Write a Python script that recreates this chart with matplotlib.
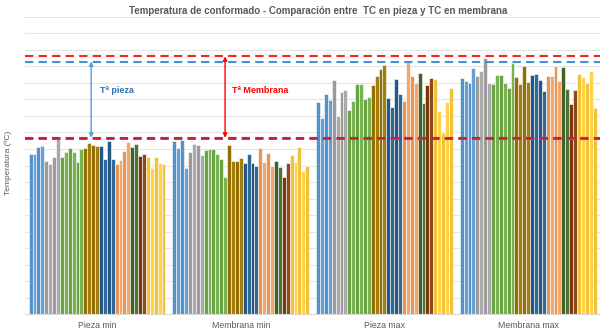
import numpy as np
import matplotlib
matplotlib.use("Agg")
import matplotlib.pyplot as plt

plt.rcParams['font.family'] = ['Liberation Sans', 'DejaVu Sans']

categorias = ['Pieza min', 'Membrana min', 'Pieza max', 'Membrana max']

# 35 termopares, agrupados por familia de color (azul, gris, verde, oliva,
# azul oscuro, naranja, verde oscuro, marrón, amarillo)
familias = [('#5B9BD5', 4), ('#A5A5A5', 4), ('#70AD47', 6), ('#9C7500', 4),
            ('#255E91', 4), ('#F4A060', 4), ('#43682B', 2), ('#843C0C', 2),
            ('#FFCF40', 5)]

pieza_min = [97.0, 97.0, 101.5, 101.8,
             92.9, 91.1, 95.0, 106.8,
             95.3, 98.1, 100.3, 98.3, 92.3, 100.0,
             100.7, 103.5, 102.6, 101.7,
             101.7, 93.8, 104.7, 93.9,
             90.8, 93.3, 99.0, 104.4,
             101.4, 102.8,
             95.8, 97.0,
             95.0, 88.3, 95.3, 91.3, 91.1]
membrana_min = [105.0, 100.5, 105.6, 88.3,
                98.1, 103.0, 102.2, 96.2,
                99.4, 100.2, 100.0, 96.8, 93.8, 83.0,
                102.7, 92.9, 92.9, 94.7,
                91.7, 97.0, 91.7, 89.7,
                100.3, 92.3, 97.4, 89.7,
                92.6, 88.8,
                83.3, 91.3,
                96.2, 92.4, 101.0, 86.8, 89.7]
pieza_max = [128.3, 119.0, 133.2, 129.7,
             141.6, 120.2, 134.7, 135.8,
             123.5, 129.1, 139.1, 139.5, 130.4, 131.4,
             138.6, 144.2, 148.2, 150.8,
             130.7, 125.3, 142.6, 133.5,
             129.1, 153.3, 144.2, 139.9,
             145.9, 128.1,
             138.9, 143.2,
             142.2, 123.0, 109.7, 128.7, 136.8]
membrana_max = [142.8, 141.4, 140.0, 148.9,
                144.2, 147.1, 155.0, 139.8,
                139.6, 144.8, 144.8, 140.0, 136.8, 151.9,
                143.8, 139.6, 150.5, 140.6,
                144.8, 145.6, 141.6, 135.0,
                144.4, 144.2, 150.5, 141.2,
                149.9, 136.5,
                127.3, 135.9,
                145.5, 143.8, 140.0, 147.3, 125.0]

# límites de referencia
ref_membrana_max = 156.1
ref_pieza_max = 153.0
ref_membrana_min = 106.8
ref_pieza_min = 105.9

datos = np.array([pieza_min, membrana_min, pieza_max, membrana_max])

colores = []
for c, n in familias:
    base = np.array(matplotlib.colors.to_rgb(c))
    for k in range(n):
        f = 0.12 * ((k % 2) - 0.5)
        colores.append(tuple(np.clip(base + (1 - base) * max(f, 0) + base * min(f, 0), 0, 1)))

fig = plt.figure(figsize=(6, 3.32), dpi=100)
ax = fig.add_axes([0.042, 0.054, 0.958, 0.895])

n_series = datos.shape[1]
ancho = 0.0272
x = np.arange(len(categorias))
for j in range(n_series):
    ax.bar(x + (j - (n_series - 1) / 2) * ancho, datos[:, j], width=ancho,
           color=colores[j], edgecolor='white', linewidth=0.4, zorder=2)

# primero las líneas azules (pieza), encima las rojas (membrana)
for y, c in [(ref_pieza_max, '#4A90D0'), (ref_pieza_min, '#3E70B0'),
             (ref_membrana_max, '#FF2020'), (ref_membrana_min, '#C8203A')]:
    ax.axhline(y, color=c, ls=(0, (4, 2.5)), lw=1.5, zorder=3)

ax.annotate('', xy=(-0.041, ref_membrana_min), xytext=(-0.041, ref_pieza_max),
            arrowprops=dict(arrowstyle='<|-|>', color='#5B9BD5', lw=1,
                            mutation_scale=6, shrinkA=0, shrinkB=0), zorder=4)
ax.annotate('', xy=(0.891, ref_membrana_min), xytext=(0.891, ref_membrana_max),
            arrowprops=dict(arrowstyle='<|-|>', color='#FF0000', lw=1,
                            mutation_scale=6, shrinkA=0, shrinkB=0), zorder=4)
ax.text(0.02, 135.2, 'Tª pieza', color='#2E75B6', fontsize=6.5,
        fontweight='bold', va='center')
ax.text(0.94, 135.2, 'Tª Membrana', color='#FF0000', fontsize=6.5,
        fontweight='bold', va='center')

ax.set_xlim(-0.5, 3.5)
ax.set_ylim(0, 180)
ax.set_yticks(np.arange(0, 181, 10))
ax.set_yticklabels([])
ax.tick_params(axis='y', length=0)
ax.tick_params(axis='x', length=0, pad=5, labelsize=6.3, labelcolor='#595959')
ax.set_xticks(x)
ax.set_xticklabels(categorias)
ax.grid(axis='y', color='#E3E3E3', lw=0.8, zorder=0)
for s in ['top', 'right', 'left']:
    ax.spines[s].set_visible(False)
ax.spines['bottom'].set_color('#D9D9D9')

fig.text(0.013, 0.51, 'Temperatura (ºC)', rotation=90, fontsize=6,
         color='#595959', va='center', ha='center')
fig.text(0.53, 0.968, 'Temperatura de conformado - Comparación entre  TC en pieza y TC en membrana',
         fontsize=7, fontweight='bold', color='#595959', ha='center', va='center')

fig.savefig('out.png', dpi=100)
